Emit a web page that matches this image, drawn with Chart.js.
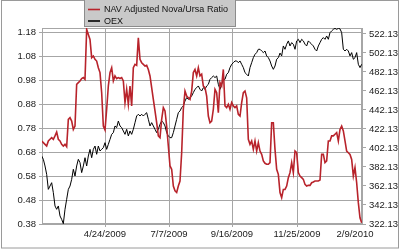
<!DOCTYPE html>
<html>
<head>
<meta charset="utf-8">
<script src="https://cdn.jsdelivr.net/npm/chart.js@4.4.1/dist/chart.umd.min.js"></script>
<style>
  html, body { margin: 0; padding: 0; background: #fff; }
  #wrap { width: 400px; height: 250px; }
</style>
</head>
<body>
<div id="wrap"><canvas id="ratioChart" width="400" height="250"></canvas></div>
<script>
// --- DATA (one sample every ~1.3 trading days, Feb 2009 - Feb 2010) ---
const navRatio = [
  0.726, 0.719, 0.712, 0.705, 0.726, 0.733, 0.740, 0.733, 0.747, 0.763,
  0.733, 0.726, 0.712, 0.705, 0.712, 0.702, 0.816, 0.823, 0.809, 0.774,
  0.788, 0.962, 0.969, 0.976, 0.986, 0.990, 0.983, 1.191, 1.170, 1.149,
  1.073, 1.080, 1.066, 1.059, 1.031, 1.011, 0.927, 0.788, 0.772, 0.858,
  0.955, 1.011, 1.031, 0.976, 0.997, 0.986, 0.990, 0.986, 0.990,
  0.976, 0.886, 0.941, 0.879, 0.955, 0.872, 1.031, 1.045, 1.041, 1.156,
  1.066, 1.052, 1.045, 1.038, 1.041, 1.024, 0.997, 0.948, 0.899, 0.851,
  0.802, 0.747, 0.740, 0.816, 0.865, 0.851, 0.788, 0.705, 0.622, 0.608,
  0.538, 0.518, 0.511, 0.538, 0.559, 0.677, 0.858, 0.934, 0.913, 0.906,
  0.899, 0.934, 1.011, 1.024, 0.997, 1.031, 0.997, 1.004,
  0.955, 0.948, 0.913, 0.830, 0.802, 0.809, 0.858, 0.941, 0.927, 0.844,
  0.969, 0.955, 1.024, 0.872, 0.865, 0.879, 0.858, 0.886, 0.872, 0.865,
  0.872, 0.837, 0.830, 0.886, 0.927, 0.934, 0.906, 0.733, 0.712, 0.726,
  0.691, 0.726, 0.684, 0.719, 0.684, 0.670, 0.643, 0.633, 0.629, 0.629,
  0.636, 0.802, 0.802, 0.691, 0.608, 0.587, 0.511, 0.490,
  0.524, 0.524, 0.538, 0.573, 0.594, 0.636, 0.594, 0.684, 0.677, 0.594,
  0.580, 0.573, 0.566, 0.545, 0.538, 0.541, 0.541, 0.552, 0.555, 0.559,
  0.559, 0.559, 0.563, 0.670, 0.670, 0.636, 0.643, 0.726, 0.726, 0.747,
  0.747, 0.754, 0.761, 0.726, 0.774, 0.788, 0.768, 0.726, 0.684, 0.677,
  0.670, 0.649, 0.580, 0.615, 0.552, 0.469, 0.406, 0.385
];

const oex = [
  393.7, 390.2, 383.2, 374.4, 358.6, 362.1, 365.6, 355.1, 341.1, 337.6,
  341.1, 330.6, 327.0, 322.5, 337.6, 348.1, 358.6, 362.1, 369.1, 379.7,
  372.6, 383.2, 390.2, 386.7, 376.2, 383.2, 391.9, 383.2, 393.7, 400.7,
  391.9, 400.7, 404.2, 395.5, 404.2, 399.0, 400.7, 402.5, 407.7, 400.7,
  406.0, 411.2, 416.5, 418.3, 425.3, 423.6, 430.5, 425.3, 423.6,
  420.0, 416.5, 421.8, 414.8, 420.0, 416.5, 421.8, 428.8, 435.8, 437.6,
  435.8, 437.6, 435.8, 437.6, 439.3, 432.3, 425.3, 428.8, 425.3, 421.8,
  418.3, 421.8, 427.1, 430.6, 428.8, 425.3, 418.3, 414.8, 413.0, 413.0,
  418.3, 425.3, 432.3, 439.3, 441.1, 444.6, 446.4, 451.6, 455.1, 453.4,
  455.1, 456.9, 460.4, 463.9, 465.6, 467.4, 463.9, 462.1,
  465.6, 463.9, 467.4, 469.1, 474.4, 476.2, 477.9, 476.2, 477.9, 469.1,
  463.9, 469.1, 474.4, 474.4, 479.7, 481.4, 486.7, 490.2, 491.9, 493.7,
  493.7, 491.9, 493.7, 490.2, 486.7, 481.4, 479.7, 477.9, 486.7, 491.9,
  497.2, 500.7, 502.5, 506.0, 506.0, 504.2, 502.5, 504.2, 499.0, 497.2,
  493.7, 488.4, 484.9, 488.4, 495.5, 497.2, 502.0, 499.0,
  509.5, 506.0, 511.3, 514.8, 509.5, 513.0, 511.3, 506.0, 514.8, 516.5,
  513.0, 516.5, 514.8, 511.3, 509.5, 514.8, 513.0, 511.3, 509.5, 506.0,
  504.2, 509.5, 513.0, 516.5, 518.3, 516.5, 520.0, 516.5, 523.5, 525.3,
  527.0, 528.0, 527.0, 528.0, 527.5, 523.5, 506.0, 504.2, 506.0, 504.2,
  499.0, 502.5, 495.5, 497.2, 502.5, 490.2, 486.7, 490.2
];

const dateTicks = [39, 77.4, 115.2, 154.2, 189];
const dateLabels = ["4/24/2009", "7/7/2009", "9/16/2009", "11/25/2009", "2/9/2010"];
const ratioTicks = [0.38, 0.48, 0.58, 0.68, 0.78, 0.88, 0.98, 1.08, 1.18];
const oexTicks = [322.13, 342.13, 362.13, 382.13, 402.13, 422.13, 442.13, 462.13, 482.13, 502.13, 522.13];

const FONT = "'Liberation Sans', Arial, sans-serif";
const GRID = "#a6a6a6";
const RED = "#b8232b";

const toPoints = arr => arr.map((v, i) => ({ x: i + 1, y: v }));

// frame around plot + outer border + grey legend box
const framePlugin = {
    id: "frame",
    beforeDraw(chart) {
        const c = chart.ctx;
        c.save();
        c.fillStyle = "#fff";
        c.fillRect(0, 0, chart.width, chart.height);
        c.restore();
    },
    beforeDatasetsDraw(chart) {
        const c = chart.ctx, a = chart.chartArea;
        c.save();
        c.strokeStyle = GRID;
        c.lineWidth = 1;
        c.strokeRect(a.left + 0.5, a.top + 0.5, a.right - a.left - 1, a.bottom - a.top - 1);
        c.restore();
    },
    afterDraw(chart) {
        const c = chart.ctx;
        c.save();
        c.strokeStyle = "#9a9a9a";
        c.strokeRect(1.5, 0.5, 397, 247.5);

        // legend
        c.fillStyle = "#c9c9c9";
        c.fillRect(85, 0, 151, 27);
        c.strokeStyle = "#8c8c8c";
        c.strokeRect(84.5, -0.5, 151, 27);
        c.font = "9px " + FONT;
        c.textBaseline = "middle";
        chart.data.datasets.forEach((ds, i) => {
            const y = 9.5 + i * 11.5;
            c.strokeStyle = ds.borderColor;
            c.lineWidth = 1.6;
            c.beginPath();
            c.moveTo(88, y);
            c.lineTo(100, y);
            c.stroke();
            c.fillStyle = "#111";
            c.fillText(ds.label, 104, y + 0.5);
        });
        c.restore();
    }
};

const ctx = document.getElementById("ratioChart").getContext("2d");
const chart = new Chart(ctx, {
    type: "line",
    data: {
        datasets: [
            { label: "NAV Adjusted Nova/Ursa Ratio", data: toPoints(navRatio), yAxisID: "y",
              borderColor: RED, borderWidth: 1.6, pointRadius: 0, fill: false, tension: 0 },
            { label: "OEX", data: toPoints(oex), yAxisID: "y2",
              borderColor: "#000", borderWidth: 1, pointRadius: 0, fill: false, tension: 0 }
        ]
    },
    options: {
        responsive: false,
        animation: false,
        layout: { padding: { top: 28, left: 0, right: 0, bottom: 0 } },
        plugins: { legend: { display: false }, tooltip: { enabled: false } },
        scales: {
            x: {
                type: "linear",
                min: 1.2,
                max: 193.2,
                afterBuildTicks: s => { s.ticks = dateTicks.map(v => ({ value: v })); },
                afterFit: s => { s.height = 26; },
                ticks: {
                    autoSkip: false, maxRotation: 0, padding: 2,
                    color: "#1a1a1a", font: { family: FONT, size: 9.5 },
                    callback: (v, i) => dateLabels[i]
                },
                grid: {
                    color: c => (c.index === dateTicks.length - 1 ? "rgba(0,0,0,0)" : GRID),
                    tickLength: 3
                },
                border: { display: true, color: GRID }
            },
            y: {
                position: "left",
                min: 0.38,
                max: 1.1967,
                afterBuildTicks: s => { s.ticks = ratioTicks.map(v => ({ value: v })); },
                afterFit: s => { s.width = 42; },
                ticks: {
                    padding: 3, color: "#1a1a1a", font: { family: FONT, size: 9.5 },
                    callback: v => v.toFixed(2)
                },
                grid: { color: GRID, tickLength: 3 },
                border: { display: true, color: GRID }
            },
            y2: {
                position: "right",
                min: 322.13,
                max: 528.4,
                afterBuildTicks: s => { s.ticks = oexTicks.map(v => ({ value: v })); },
                afterFit: s => { s.width = 38; },
                ticks: {
                    padding: 3, color: "#1a1a1a", font: { family: FONT, size: 9.5 },
                    callback: v => v.toFixed(2)
                },
                grid: { drawOnChartArea: false, color: GRID, tickLength: 4 },
                border: { display: true, color: GRID }
            }
        }
    },
    plugins: [framePlugin]
});
</script>
</body>
</html>
